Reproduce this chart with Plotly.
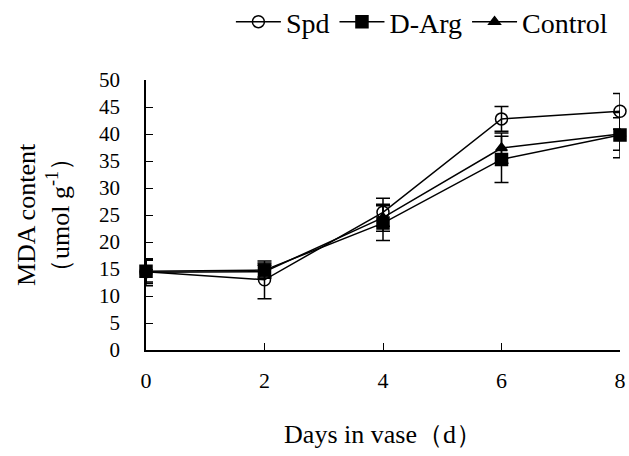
import plotly.graph_objects as go

days = [0, 2, 4, 6, 8]
spd = [14.5, 13.0, 25.5, 42.8, 44.2]
spd_err = [2.2, 3.5, 2.6, 2.3, 3.3]
darg = [14.6, 14.8, 23.5, 35.3, 39.8]
darg_err = [2.0, 1.3, 3.2, 4.3, 4.2]
control = [14.4, 14.5, 24.5, 37.4, 40.0]
control_err = [2.5, 1.2, 2.5, 2.8, 3.0]

series = [
    ("Spd", spd, spd_err, "circle-open", 12),
    ("D-Arg", darg, darg_err, "square", 12),
    ("Control", control, control_err, "triangle-up", 10),
]

fig = go.Figure()
for name, vals, errs, sym, sz in series:
    fig.add_trace(go.Scatter(
        x=days, y=vals, name=name, mode="lines+markers",
        line=dict(color="black", width=1.5),
        marker=dict(symbol=sym, size=sz, color="black", line=dict(color="black", width=1.5)),
        error_y=dict(type="data", array=errs, visible=True, color="black", thickness=1.5, width=7),
        cliponaxis=False,
    ))

font = "Liberation Serif, Times New Roman, serif"
fig.update_layout(
    width=629, height=456,
    margin=dict(l=146, r=9, t=80, b=106, autoexpand=False),
    paper_bgcolor="white", plot_bgcolor="white",
    font=dict(family=font, size=22, color="black"),
    showlegend=True,
    legend=dict(orientation="h", x=0.985, xanchor="right", y=1.215, yanchor="middle",
                font=dict(size=28, family=font), itemwidth=45, tracegroupgap=0),
    xaxis=dict(range=[0, 8], tickvals=days, ticks="inside", ticklen=7, tickcolor="black",
               showline=True, linecolor="black", linewidth=1.5, showgrid=False, zeroline=False,
               ticklabelstandoff=10, tickfont=dict(size=22),
               title=dict(text="Days in vase（d）", font=dict(size=26), standoff=33)),
    yaxis=dict(range=[0, 50], dtick=5, ticks="inside", ticklen=7, tickcolor="black",
               showline=True, linecolor="black", linewidth=1.5, showgrid=False, zeroline=False,
               ticklabelstandoff=20, tickfont=dict(size=21),
               title=dict(text="MDA content<br>（umol g<sup>-1</sup>）", font=dict(size=26), standoff=22)),
)

fig.write_html("out.html")
